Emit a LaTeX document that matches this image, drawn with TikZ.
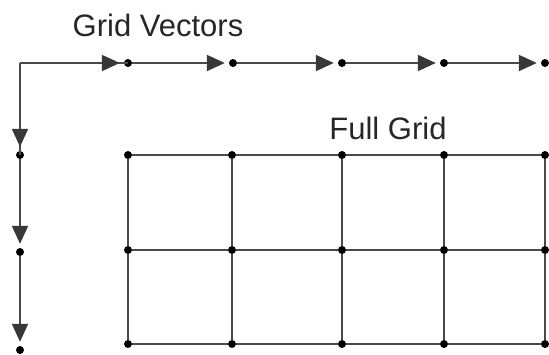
\documentclass[tikz,border=0pt]{standalone}
\usepackage{fontspec}
\setmainfont{Liberation Sans}
\usepackage{tikz}
\usetikzlibrary{arrows.meta,positioning}
\definecolor{gline}{HTML}{4A4A4A}
\definecolor{ghead}{HTML}{383838}
\tikzset{
  gdot/.style={circle,fill=black,inner sep=0pt,minimum size=8pt},
  glink/.style={line width=2pt,draw=gline},
  garr/.style={glink,-{Triangle[length=18pt,width=16pt,fill=ghead,color=ghead]},shorten >=4pt},
  glbl/.style={font=\fontsize{31}{36}\selectfont,text=black!85},
}
\begin{document}
\begin{tikzpicture}[x=1pt,y=-1pt]
\useasboundingbox (0,0) rectangle (549,355);
\coordinate (corner) at (20,63);
\foreach \i/\x in {1/128,2/233,3/342,4/444,5/545}
  \node[gdot] (h\i) at (\x,63) {};
\foreach \i/\y in {1/155,2/252,3/350}
  \node[gdot] (v\i) at (20,\y) {};
\foreach \c/\x in {1/128,2/232,3/342,4/444,5/545}{
  \foreach \r/\y in {1/155,2/250,3/344}
    \node[gdot] (g\c\r) at (\x,\y) {};}
\foreach \c in {1,...,4}{
  \pgfmathtruncatemacro\n{\c+1}
  \foreach \r in {1,2,3}
    \draw[glink] (g\c\r) -- (g\n\r);}
\foreach \c in {1,...,5}{
  \draw[glink] (g\c1) -- (g\c2);
  \draw[glink] (g\c2) -- (g\c3);}
\draw[glink] (corner) -- (h1.center);
\draw[glink] (corner) -- (v1.center);
\draw[garr] (corner) -- (h1);
\draw[garr] (corner) -- (v1);
\foreach \a/\b in {h1/h2,h2/h3,h3/h4,h4/h5,v1/v2,v2/v3}
  \draw[garr] (\a) -- (\b);
\node[glbl] (gvlbl) at (158,25) {Grid Vectors};
\node[glbl] (fglbl) at (388,128) {Full Grid};
\end{tikzpicture}
\end{document}
